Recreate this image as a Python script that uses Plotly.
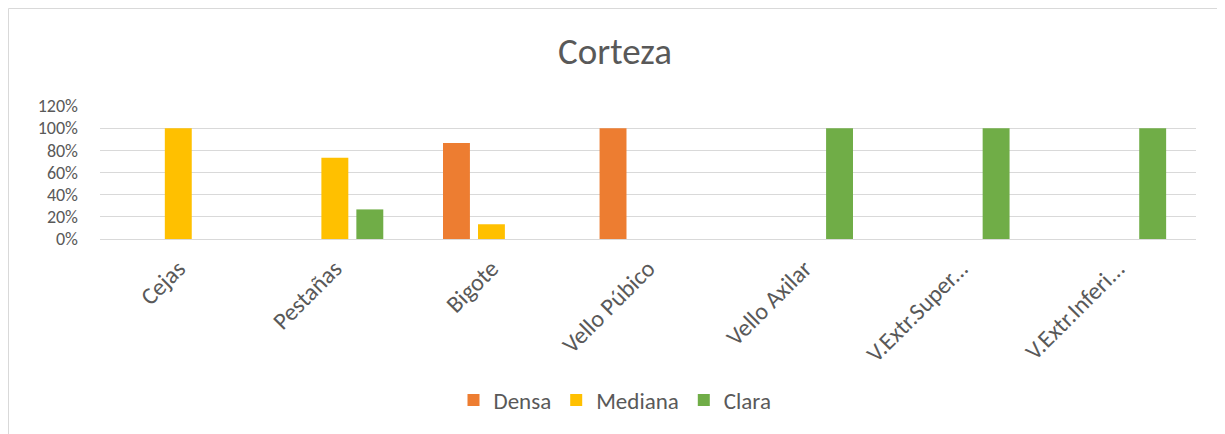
import plotly.graph_objects as go

categories = ["Cejas", "Pestañas", "Bigote", "Vello Púbico", "Vello Axilar",
              "V.Extr.Super...", "V.Extr.Inferi..."]
densa = [0, 0, 0.867, 1.0, 0, 0, 0]
mediana = [1.0, 0.733, 0.133, 0, 0, 0, 0]
clara = [0, 0.267, 0, 0, 1.0, 1.0, 1.0]
y_ticks = [0, 0.2, 0.4, 0.6, 0.8, 1.0, 1.2]
y_tick_labels = ["0%", "20%", "40%", "60%", "80%", "100%", "120%"]

FONT = "Carlito, Calibri, Lato, Liberation Sans, sans-serif"
GREY = "#595959"

fig = go.Figure()
for name, vals, col in [("Densa", densa, "#ED7D31"),
                        ("Mediana", mediana, "#FFC000"),
                        ("Clara", clara, "#70AD47")]:
    fig.add_trace(go.Bar(x=categories, y=vals, name=name,
                         marker=dict(color=col, line=dict(width=0))))

# page body has an 8px margin; figure coordinates below are page coords - 8
OFF = 8
W, H = 1225 - OFF, 434 - OFF
L, R, T, B = 100 - OFF, W - (1196 - OFF), 106 - OFF, H - (239 - OFF)
pw, ph = W - L - R, H - T - B

def px(x):
    return (x - OFF - L) / pw

def py(y):
    return (H - B - (y - OFF)) / ph

fig.update_layout(
    width=W, height=H,
    margin=dict(l=L, r=R, t=T, b=B, autoexpand=False),
    paper_bgcolor="white", plot_bgcolor="white",
    barmode="group", bargap=0.33, bargroupgap=0.23,
    font=dict(family=FONT, color=GREY, size=20),
    title=dict(text="Corteza", x=(615 - OFF) / W, xanchor="center",
               y=1 - (51 - OFF) / H, yanchor="middle",
               font=dict(size=37, color=GREY, family=FONT)),
    xaxis=dict(tickangle=-45, showgrid=False, showline=False, zeroline=False,
               tickfont=dict(size=24, color=GREY), ticks="outside",
               ticklen=5, tickcolor="rgba(0,0,0,0)", automargin=False),
    yaxis=dict(range=[0, 1.2], tickvals=y_ticks, ticktext=y_tick_labels,
               showgrid=True, gridcolor="#d9d9d9", gridwidth=1,
               zeroline=True, zerolinecolor="#d9d9d9", zerolinewidth=1,
               showline=False, ticks="", ticklabelstandoff=21,
               tickfont=dict(size=18, color=GREY), automargin=False),
    legend=dict(orientation="h", x=px(615), xanchor="center", y=py(400),
                yanchor="middle", font=dict(size=23, color=GREY),
                itemwidth=30, traceorder="normal"),
    shapes=[dict(type="rect", xref="paper", yref="paper",
                 x0=px(8.5), x1=px(1224), y0=py(440), y1=py(8.5),
                 line=dict(color="#d9d9d9", width=1), fillcolor="rgba(0,0,0,0)",
                 layer="below")],
)

fig.write_html("out.html")
